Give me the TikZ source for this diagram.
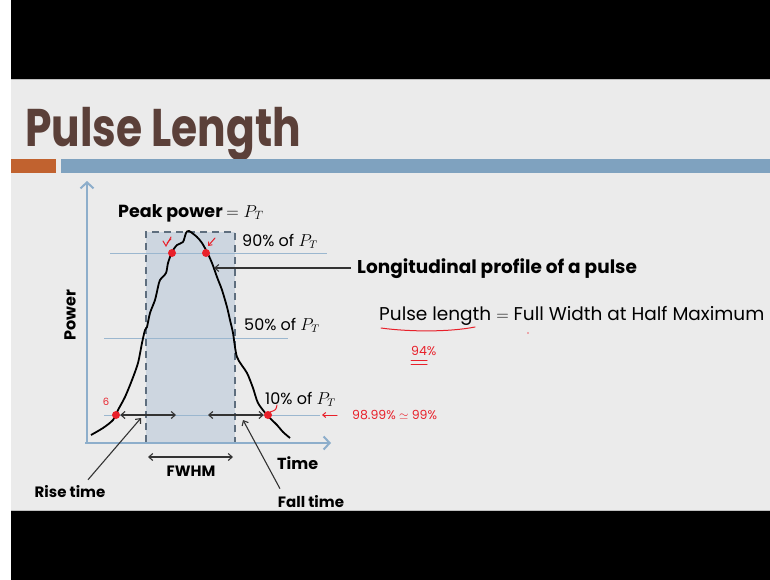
\documentclass[tikz,border=0pt]{standalone}
\usepackage{fontspec}
\setmainfont{Poppins}
\usepackage{amsmath,amssymb}
\usetikzlibrary{arrows.meta,positioning,calc}
\definecolor{slidebg}{HTML}{EBEBEB}
\definecolor{titlebrown}{HTML}{5B4039}
\definecolor{barorange}{HTML}{C1622F}
\definecolor{barblue}{HTML}{7FA2BF}
\definecolor{axisblue}{HTML}{8DAECB}
\definecolor{levelblue}{HTML}{9BB7CF}
\definecolor{boxfill}{HTML}{CDD6E0}
\definecolor{boxedge}{HTML}{5E6E7E}
\definecolor{inkred}{HTML}{E8202A}
\definecolor{pointer}{HTML}{333333}
\tikzset{
  % axes of the plot
  axis line/.style={axisblue, line width=2.6pt, -{Straight Barb[length=6pt,width=13pt,line width=2pt]}},
  % thin lines at 90, 50 and 10 percent
  level line/.style={levelblue, line width=0.9pt},
  % arrows pointing at things
  pointer arrow/.style={pointer, line width=1.1pt, -{Straight Barb[length=4pt,width=7pt]}},
  span arrow/.style={pointer, line width=1.1pt, {Straight Barb[length=4pt,width=7pt]}-{Straight Barb[length=4pt,width=7pt]}},
  lbl/.style={inner sep=0pt, font=\fontsize{16}{18}\selectfont},
  bold lbl/.style={inner sep=0pt, font=\fontsize{16}{18}\selectfont\bfseries},
  small bold/.style={inner sep=0pt, font=\fontsize{15}{17}\selectfont\bfseries},
  ink/.style={inkred, line width=1pt, line cap=round},
  ink text/.style={inner sep=0pt, text=inkred, font=\fontsize{12.5}{14}\selectfont},
  red dot/.style={circle, fill=inkred, inner sep=0pt, minimum size=8pt},
}

\begin{document}
\begin{tikzpicture}[x=1pt,y=-1pt]
  \useasboundingbox (0,0) rectangle (770,580);
  % screen and slide
  \fill[white] (0,0) rectangle (770,580);
  \fill[black] (11,0) rectangle (770,580);
  \fill[slidebg] (11,79) rectangle (770,511);
  \draw[black!25, line width=1pt] (11,79.5) -- (770,79.5);
  \draw[black!25, line width=1pt] (11,510.5) -- (770,510.5);
  % title and bars
  \node[anchor=base west, inner sep=0pt, text=titlebrown, xscale=0.8,
        font=\fontsize{53}{60}\selectfont\bfseries] (title) at (25,147) {Pulse Length};
  \fill[barorange] (11,159) rectangle (56,173);
  \fill[barblue] (61,159) rectangle (770,173);

  % Draw the FWHM box
  \filldraw[fill=boxfill, draw=boxedge, line width=1.6pt, dash pattern=on 7pt off 5pt]
    (146,442) -- (146,232) -- (235,232) -- (235,442);
  % level lines
  \draw[level line] (110,253) -- (327,253);
  \draw[level line] (104,338) -- (288,338);
  \draw[level line] (104,415) -- (320,415);
  % axes
  \draw[axis line] (87,443) -- (87,181);
  \draw[axis line] (85,443) -- (331,443);

  % Draw the pulse
  \draw[black, line width=1.8pt, line join=round] plot[smooth, tension=0.45] coordinates {
    (91,435) (103,428) (113,420) (118,410) (125,397) (132,380) (138,363) (142,343)
    (145,330) (147,327) (150,313) (155,300) (158,287) (160,280) (166,273) (168,263)
    (172,252) (177,245) (183,242) (186,233) (189,231) (197,237) (202,243) (207,252)
    (212,263) (217,277) (222,290) (227,307) (230,320) (233,333) (237,357) (247,373)
    (253,388) (258,403) (267,415) (277,425) (283,432) (290,438)};

  % points on the pulse
  \node[red dot] (p90l) at (172,253) {};
  \node[red dot] (p90r) at (206,253) {};
  \node[red dot] (p10l) at (116,415) {};
  \node[red dot] (p10r) at (268,415) {};

  % labels
  \node[bold lbl, anchor=base west, font=\fontsize{17.5}{19}\selectfont\bfseries] (peak) at (118,217)
    {Peak power $= P_T$};
  \node[lbl, anchor=base west] (lvl90) at (242,246) {90\% of $P_T$};
  \node[lbl, anchor=base west] (lvl50) at (244,330) {50\% of $P_T$};
  \node[lbl, anchor=base west] (lvl10) at (265,404) {10\% of $P_T$};
  \node[bold lbl, rotate=90] (power) at (70,315) {Power};
  \node[bold lbl, anchor=west] (time) at (277,463) {Time};
  \node[small bold] (fwhm) at (191,471) {FWHM};
  \node[small bold] (rise) at (70,492) {Rise time};
  \node[small bold] (fall) at (311,502) {Fall time};
  \node[bold lbl, anchor=base west, font=\fontsize{18.5}{20}\selectfont\bfseries] (profile) at (357,273)
    {Longitudinal profile of a pulse};
  \node[lbl, anchor=base west, font=\fontsize{18.5}{20}\selectfont] (pulselen) at (379,320)
    {Pulse length $=$ Full Width at Half Maximum};

  % arrows
  \coordinate (curve) at (214,268);
  \draw[pointer arrow] (profile.west |- curve) ++(-6,0) -- (curve);
  \coordinate (fw1) at (148,457);
  \coordinate (fw2) at (233,457);
  \draw[span arrow] (fw1) -- (fw2);
  \coordinate (r1) at (176,415);
  \coordinate (f1) at (208,415);
  \draw[span arrow] (p10l.east) -- (r1);
  \draw[span arrow] (f1) -- (p10r.west);
  \coordinate (risetip) at (141,418);
  \coordinate (falltip) at (243,420);
  \draw[pointer arrow] ($(rise.north)+(18,-6)$) -- (risetip);
  \draw[pointer arrow] ($(fall.north)+(-31,-7)$) -- (falltip);

  % handwritten notes
  \draw[ink] (381,328) .. controls (410,332) and (450,332) .. (475,327);
  \node[ink text, anchor=base west] (note94) at (411,355) {94\%};
  \draw[ink] (411,360) -- (427,360);
  \draw[ink] (411,364) -- (427,364);
  \coordinate (redtip) at (322,415);
  \node[ink text, anchor=base west] (note99) at (352,419) {98.99\% $\simeq$ 99\%};
  \draw[ink, -{Straight Barb[length=3pt,width=5pt]}] (337,415) -- (redtip);
  \node[ink text, font=\fontsize{10}{11}\selectfont] (note6) at (106,402) {6};
  \draw[ink] (163,241) -- (166,246) -- (171,237);
  \draw[ink] (167,243) -- (171,239);
  \draw[ink, -{Straight Barb[length=3pt,width=5pt]}] (215,238) -- (208,246);
  \draw[ink] (277,405) .. controls (276,410) .. (270,412);
  \fill[inkred!70] (528,333) circle (0.8pt);
\end{tikzpicture}
\end{document}
